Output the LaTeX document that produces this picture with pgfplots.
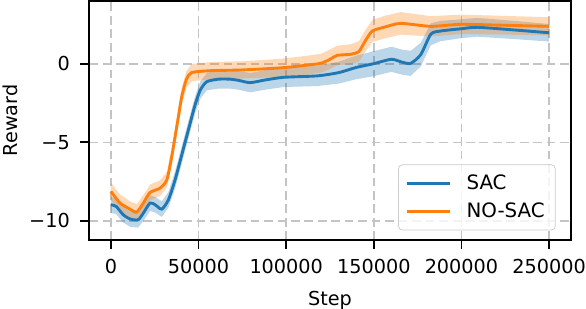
\documentclass[border=0pt]{standalone}
\usepackage{fontspec}
\setmainfont{DejaVu Sans}
\usepackage{pgfplots}
\usepackage{pgfplotstable}
\usepgfplotslibrary{fillbetween}
\pgfplotsset{compat=1.18}

\definecolor{tabblue}{HTML}{1F77B4}
\definecolor{taborange}{HTML}{FF7F0E}
\definecolor{gridgray}{HTML}{C4C4C4}

% x, mean, half width of the band
\pgfplotstableread{
x y e
0 -8.98 0.50
3000 -9.09 0.50
7000 -9.62 0.50
11000 -9.89 0.50
15500 -9.94 0.50
18500 -9.51 0.50
22300 -8.87 0.50
25200 -8.98 0.50
29000 -9.26 0.50
32800 -8.66 0.50
36600 -7.39 0.55
40400 -5.80 0.55
44200 -4.20 0.55
48000 -2.61 0.55
51000 -1.66 0.55
54700 -1.13 0.55
61400 -0.97 0.60
68000 -0.97 0.60
73000 -1.05 0.60
79500 -1.19 0.62
88000 -1.02 0.62
98600 -0.85 0.62
117700 -0.76 0.65
130000 -0.55 0.70
140000 -0.22 0.75
150000 0.02 0.80
160000 0.30 0.80
166000 0.12 0.80
171000 0.04 0.80
176800 0.60 0.75
182500 1.90 0.70
188000 2.10 0.65
200000 2.25 0.60
209200 2.34 0.60
230000 2.17 0.58
250000 1.99 0.56
}\sac

\pgfplotstableread{
x y e
0 -8.13 0.55
5150 -8.87 0.55
10870 -9.26 0.50
14700 -9.45 0.50
18500 -8.87 0.50
22300 -8.20 0.50
28000 -7.92 0.50
31900 -7.39 0.50
34700 -5.90 0.55
36600 -4.63 0.55
38500 -3.36 0.55
40400 -2.08 0.55
43000 -1.00 0.55
46000 -0.55 0.55
56600 -0.43 0.55
75000 -0.38 0.55
96700 -0.25 0.58
110000 -0.10 0.60
119600 0.04 0.60
125000 0.30 0.62
129100 0.55 0.62
137000 0.62 0.64
141500 0.80 0.66
145000 1.45 0.68
149100 2.10 0.70
155800 2.34 0.72
165300 2.59 0.72
182500 2.40 0.65
199700 2.53 0.62
220600 2.48 0.60
250000 2.40 0.58
}\nosac

\begin{document}
\begin{tikzpicture}
\begin{axis}[
    name=ax,
    scale only axis,
    width=250.6pt,
    height=124.3pt,
    xmin=-12500, xmax=262500,
    ymin=-11.23, ymax=4.02,
    xtick={0,50000,100000,150000,200000,250000},
    xticklabels={0,50000,100000,150000,200000,250000},
    scaled x ticks=false,
    ytick={-10,-5,0},
    yticklabels={−10,−5,0},
    tick align=outside,
    xtick pos=bottom,
    ytick pos=left,
    major tick length=4.5pt,
    every tick/.style={black, line width=0.9pt},
    axis line style={line width=1pt},
    grid=major,
    grid style={gridgray, line width=0.8pt, dash pattern=on 4.5pt off 2.5pt},
    xlabel={Step},
    ylabel={Reward},
    tick label style={font=\fontsize{10}{12}\selectfont},
    xticklabel style={yshift=-2pt},
    yticklabel style={xshift=-2pt},
    xlabel style={yshift=-2pt},
    ylabel style={yshift=-0.8pt},
    label style={font=\fontsize{10}{12}\selectfont},
    legend cell align=left,
    legend style={
        at={(rel axis cs:1,0)}, anchor=south east,
        xshift=-8pt, yshift=5pt,
        draw=black!20, rounded corners=2pt,
        fill=white, fill opacity=0.8, text opacity=1,
        font=\fontsize{10.3}{12}\selectfont,
        inner xsep=3.5pt, inner ysep=3pt,
        row sep=1.6pt, column sep=6pt,
    },
    legend image code/.code={\draw[#1] (0pt,0pt) -- (22.4pt,0pt);},
]
\addplot[name path=sacU, draw=none, forget plot] table[x=x, y expr=\thisrow{y}+\thisrow{e}] {\sac};
\addplot[name path=sacL, draw=none, forget plot] table[x=x, y expr=\thisrow{y}-\thisrow{e}] {\sac};
\addplot[tabblue, fill opacity=0.3, draw=none, forget plot] fill between[of=sacU and sacL];
\addplot[tabblue, line width=1.5pt, smooth, tension=0.4] table[x=x, y=y] {\sac};
\addlegendentry{SAC}

\addplot[name path=noU, draw=none, forget plot] table[x=x, y expr=\thisrow{y}+\thisrow{e}] {\nosac};
\addplot[name path=noL, draw=none, forget plot] table[x=x, y expr=\thisrow{y}-\thisrow{e}] {\nosac};
\addplot[taborange, fill opacity=0.3, draw=none, forget plot] fill between[of=noU and noL];
\addplot[taborange, line width=1.5pt, smooth, tension=0.4] table[x=x, y=y] {\nosac};
\addlegendentry{NO-SAC}
\end{axis}
\pgfresetboundingbox
\path (ax.south west) +(-46.3pt,-35.4pt) (ax.north east) +(7.8pt,0.5pt);
\end{tikzpicture}
\end{document}
